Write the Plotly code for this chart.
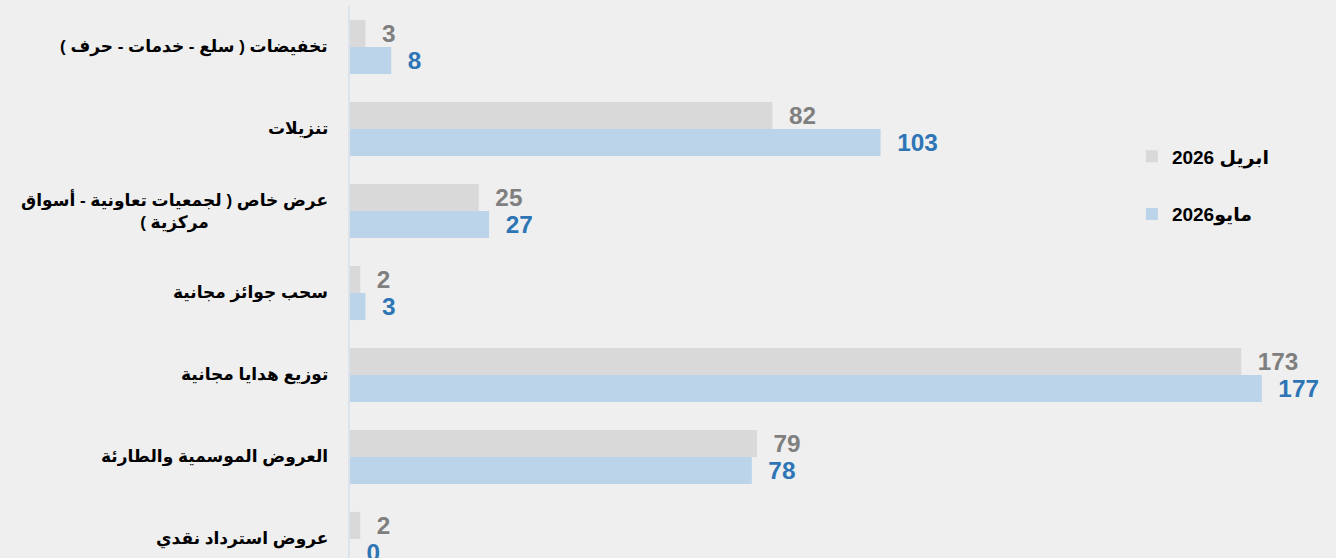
import plotly.graph_objects as go

categories = [
    "تخفيضات ( سلع - خدمات - حرف )",
    "تنزيلات",
    "عرض خاص ( لجمعيات تعاونية - أسواق<br>مركزية )",
    "سحب جوائز مجانية",
    "توزيع هدايا مجانية",
    "العروض الموسمية والطارئة",
    "عروض استرداد نقدي",
]
april_2026 = [3, 82, 25, 2, 173, 79, 2]
may_2026 = [8, 103, 27, 3, 177, 78, 0]
series_names = ["ابريل 2026", "مايو2026"]

RLE, PDF = "\u202b", "\u202c"
cat_keys = [f"c{i}" for i in range(len(categories))]

fig = go.Figure()
fig.add_trace(go.Bar(
    y=cat_keys, x=april_2026, orientation="h",
    name=RLE + series_names[0] + PDF, legendgroup="a",
    marker=dict(color="#d9d9d9", line=dict(width=0)),
    texttemplate="  %{x}", textposition="outside", cliponaxis=False,
    textfont=dict(family="Liberation Sans, Arial", size=27, color="#7f7f7f", weight="bold"),
))
fig.add_trace(go.Bar(
    y=cat_keys, x=may_2026, orientation="h",
    name=RLE + series_names[1] + PDF, legendgroup="b",
    marker=dict(color="#bcd4ea", line=dict(width=0)),
    texttemplate="  %{x}", textposition="outside", cliponaxis=False,
    textfont=dict(family="Liberation Sans, Arial", size=27, color="#2e75b6", weight="bold"),
))

for key, label in zip(cat_keys, categories):
    fig.add_annotation(
        x=0, xref="paper", y=key, yref="y",
        text="<b>" + "<br>".join(RLE + part + PDF for part in label.split("<br>")) + "</b>",
        showarrow=False, xanchor="right", yanchor="middle", align="center",
        xshift=-20,
        font=dict(family="Arial, DejaVu Sans", size=17, color="#000000"),
    )

fig.update_layout(
    width=1336, height=558,
    margin=dict(l=350, r=0, t=6, b=0),
    paper_bgcolor="#efefef", plot_bgcolor="#efefef",
    barmode="group", bargap=0.34, bargroupgap=0,
    showlegend=True,
    legend=dict(
        x=0.793, y=0.762, xanchor="left", yanchor="top",
        bgcolor="rgba(0,0,0,0)", traceorder="grouped", tracegroupgap=30,
        font=dict(family="Arial, DejaVu Sans", size=19, color="#000000", weight="bold"),
        itemwidth=30,
    ),
    xaxis=dict(range=[0, 191.4], visible=False, fixedrange=True),
    yaxis=dict(
        type="category", categoryorder="array", categoryarray=cat_keys,
        range=[6.232, -0.5], showticklabels=False, ticks="",
        showgrid=False, zeroline=False,
        showline=True, linecolor="#dbe3ec", linewidth=2,
    ),
)

fig.write_html(
    "out.html",
    config={"displayModeBar": False},
    post_script="document.body.style.margin='0';document.body.style.overflow='hidden';",
)
